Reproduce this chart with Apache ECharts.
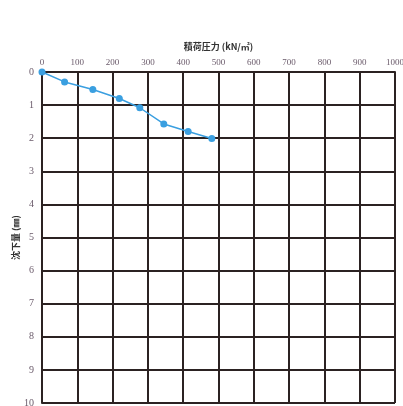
<!DOCTYPE html>
<html>
<head>
<meta charset="utf-8">
<script src="https://cdn.jsdelivr.net/npm/echarts@6/dist/echarts.min.js"></script>
<style>
  html, body { margin: 0; padding: 0; background: #fff; }
  #chart { width: 403px; height: 406px; }
</style>
</head>
<body>
<div id="chart"></div>
<script>
// Load test: applied pressure vs. settlement
const pressure = [0, 64, 144, 219, 277, 345, 414, 481];          // kN/㎡
const settlement = [0, 0.30, 0.53, 0.80, 1.08, 1.57, 1.80, 2.01]; // ㎜
const xTicks = [0, 100, 200, 300, 400, 500, 600, 700, 800, 900, 1000];
const yTicks = [0, 1, 2, 3, 4, 5, 6, 7, 8, 9, 10];

const gridColor = '#2b2222';
const labelColor = '#6a5a6a';
const labelFont = '"Liberation Serif", "DejaVu Serif", serif';

const chart = echarts.init(document.getElementById('chart'));
chart.setOption({
  animation: false,
  grid: { left: 42, right: 8, top: 72, bottom: 3, containLabel: false, outerBoundsMode: 'none' },
  xAxis: {
    type: 'value',
    position: 'top',
    min: xTicks[0],
    max: xTicks[xTicks.length - 1],
    interval: 100,
    name: '積荷圧力 (kN/㎡)',
    nameLocation: 'middle',
    nameGap: 21,
    nameMoveOverlap: false,
    nameTextStyle: { fontSize: 9, color: '#333', fontWeight: 'bold', fontFamily: '"Noto Sans CJK JP", sans-serif' },
    axisLine: { show: true, lineStyle: { color: gridColor, width: 2 } },
    axisTick: { show: false },
    axisLabel: { fontSize: 9, color: labelColor, margin: 5, fontFamily: labelFont, formatter: v => String(v) },
    splitLine: { show: true, lineStyle: { color: gridColor, width: 2 } }
  },
  yAxis: {
    type: 'value',
    inverse: true,
    min: yTicks[0],
    max: yTicks[yTicks.length - 1],
    interval: 1,
    name: '沈下量 (㎜)',
    nameLocation: 'middle',
    nameGap: 22,
    nameMoveOverlap: false,
    nameTextStyle: { fontSize: 9, color: '#333', fontWeight: 'bold', fontFamily: '"Noto Sans CJK JP", sans-serif' },
    axisLine: { show: true, lineStyle: { color: gridColor, width: 2 } },
    axisTick: { show: false },
    axisLabel: { fontSize: 10, color: labelColor, margin: 8, fontFamily: labelFont },
    splitLine: { show: true, lineStyle: { color: gridColor, width: 2 } }
  },
  series: [{
    type: 'line',
    data: pressure.map((p, i) => [p, settlement[i]]),
    symbol: 'circle',
    symbolSize: 7,
    lineStyle: { color: '#3a9fe0', width: 1.5 },
    itemStyle: { color: '#3a9fe0' },
    z: 5
  }]
});
</script>
</body>
</html>
